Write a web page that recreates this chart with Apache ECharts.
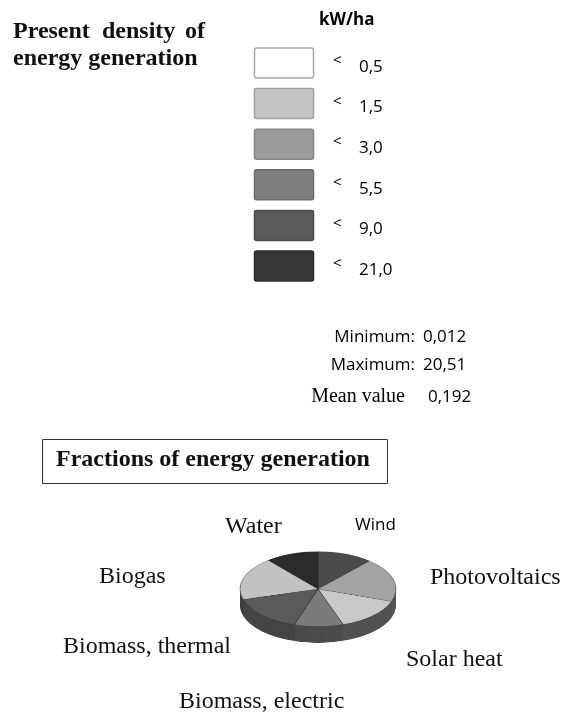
<!DOCTYPE html>
<html>
<head>
<meta charset="utf-8">
<script src="https://cdn.jsdelivr.net/npm/echarts@6/dist/echarts.min.js"></script>
<style>
    html, body { margin: 0; padding: 0; background: #fff; }
    #wrap { position: relative; width: 576px; height: 712px; }
    #main { position: absolute; left: 0; top: 0; width: 576px; height: 712px; }
    #pie { position: absolute; left: 218px; top: 541px; width: 200px; height: 250px;
           transform: scaleY(0.48); transform-origin: 0 0; pointer-events: none; }
</style>
</head>
<body>
<div id="wrap">
    <div id="main"></div>
    <div id="pie"></div>
</div>
<script>
// legend classes (kW/ha)
const densityLimits = ['0,5', '1,5', '3,0', '5,5', '9,0', '21,0'];
const densityShades = ['#ffffff', '#c4c4c4', '#9c9c9c', '#7f7f7f', '#5a5a5a', '#383838'];
const densityBorders = ['#a8a8a8', '#a0a0a0', '#858585', '#6c6c6c', '#4c4c4c', '#2c2c2c'];

// statistics
const statLabels = ['Minimum:', 'Maximum:', 'Mean value'];
const statValues = ['0,012', '20,51', '0,192'];

// fractions of energy generation (share in %)
const sources = ['Wind', 'Photovoltaics', 'Solar heat', 'Biomass, electric', 'Biomass, thermal', 'Biogas', 'Water'];
const fractions = [11.5, 18.9, 14.4, 10.1, 15.6, 18.5, 11.0];
const topShades = ['#4a4a4a', '#a3a3a3', '#c9c9c9', '#7b7b7b', '#5a5a5a', '#c2c2c2', '#2b2b2b'];
const sideShades = ['#3a3a3a', '#565656', '#515151', '#4b4b4b', '#454545', '#3f3f3f', '#303030'];

const SERIF = '"Liberation Serif", "Times New Roman", serif';
const SANS = '"Open Sans", "Noto Sans", sans-serif';

function txt(text, x, y, font, align, fill) {
    return {
        type: 'text', x: x, y: y, silent: true,
        style: { text: text, font: font, fill: fill || '#111', textAlign: align || 'left', textVerticalAlign: 'middle' }
    };
}

let elements = [];
// title, words spread like the original
[['Present', 13], ['density', 102], ['of', 185]].forEach(function (w) {
    elements.push(txt(w[0], w[1], 32, 'bold 24px ' + SERIF));
});
elements.push(txt('energy generation', 13, 59, 'bold 24px ' + SERIF));
elements.push(txt('kW/ha', 319, 20, 'bold 17px ' + SANS, 'left', '#000'));

for (let i = 0; i < densityLimits.length; i++) {
    let top = 48 + i * 40.6;
    elements.push({
        type: 'rect', silent: true,
        shape: { x: 254.5, y: top, width: 59, height: 30, r: 2 },
        style: { fill: densityShades[i], stroke: densityBorders[i], lineWidth: 1.5 }
    });
    elements.push(txt('<', 333, top + 13, '15px ' + SANS, 'left', '#000'));
    elements.push(txt(densityLimits[i], 359, top + 19, '17px ' + SANS, 'left', '#000'));
}

for (let i = 0; i < statLabels.length; i++) {
    let y = [337, 365, 397][i];
    let f = i == 2 ? '20px ' + SERIF : '17px ' + SANS;
    elements.push(txt(statLabels[i], i == 2 ? 405 : 415, y, f, 'right', '#000'));
    elements.push(txt(statValues[i], i == 2 ? 428 : 423, y, '17px ' + SANS, 'left', '#000'));
}

elements.push({
    type: 'rect', silent: true,
    shape: { x: 42.5, y: 439.5, width: 345, height: 44 },
    style: { fill: 'none', stroke: '#333', lineWidth: 1 }
});
elements.push(txt('Fractions of energy generation', 56, 460, 'bold 24px ' + SERIF));

// pie labels
const labelPos = {
    'Wind': [355, 525], 'Photovoltaics': [430, 578], 'Solar heat': [406, 660],
    'Biomass, electric': [179, 702], 'Biomass, thermal': [63, 647], 'Biogas': [99, 577], 'Water': [225, 527]
};
sources.forEach(function (s) {
    let f = s == 'Wind' ? '17px ' + SANS : '24px ' + SERIF;
    elements.push(txt(s, labelPos[s][0], labelPos[s][1], f, 'left', s == 'Wind' ? '#000' : '#111'));
});

let mainChart = echarts.init(document.getElementById('main'));
mainChart.setOption({ animation: false, graphic: { elements: elements } });

// pie: drawn round, squashed by css, side wall from stacked layers
let pieChart = echarts.init(document.getElementById('pie'));
let series = [];
const R = 78, DEPTH = 34;
for (let d = DEPTH; d >= 0; d -= 2) {
    let isTop = d == 0;
    series.push({
        type: 'pie',
        silent: true,
        center: [100, 100 + d],
        radius: [0, R],
        startAngle: 90,
        clockwise: true,
        label: { show: false },
        labelLine: { show: false },
        emphasis: { disabled: true },
        itemStyle: isTop ? { borderColor: 'rgba(40,40,40,0.55)', borderWidth: 0.8 } : { borderWidth: 0 },
        data: sources.map(function (s, i) {
            return { name: s, value: fractions[i], itemStyle: { color: isTop ? topShades[i] : sideShades[i] } };
        })
    });
}
pieChart.setOption({ animation: false, series: series });
</script>
</body>
</html>
